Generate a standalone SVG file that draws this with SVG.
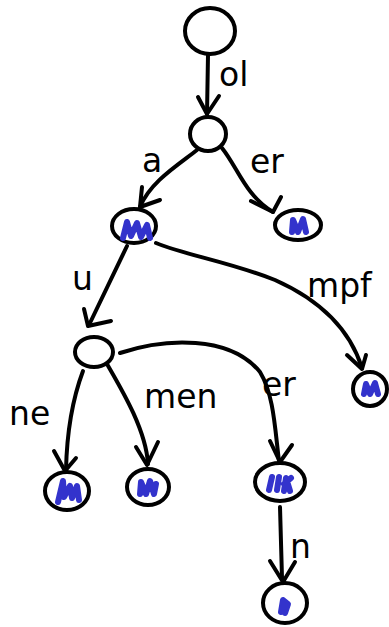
<svg xmlns="http://www.w3.org/2000/svg" width="389" height="627" viewBox="0 0 389 627">
<style>
.n{fill:#fff;stroke:#000;stroke-width:4}
.s{fill:none;stroke:#3333cc;stroke-width:6;stroke-linecap:round;stroke-linejoin:round}
.e{fill:none;stroke:#000;stroke-width:4;stroke-linecap:round;stroke-linejoin:round}
.a{fill:none;stroke:#000;stroke-width:4;stroke-linecap:round;stroke-linejoin:round}
text{font-family:"DejaVu Sans",sans-serif;font-size:33px;fill:#000}
</style>
<rect width="389" height="627" fill="#fff"/>
<g id="connectors">
<path class="e" d="M208,55 L207,114"/><path class="a" d="M198,97 L207,114 L219,96"/>
<path class="e" d="M197,150 C178,165 150,182 140,207"/><path class="a" d="M142,187 L140,207 L160,200"/>
<path class="e" d="M222,148 C238,168 245,195 273,212"/><path class="a" d="M251,201 L273,212 L281,197"/>
<path class="e" d="M127,246 L89,325"/><path class="a" d="M84,309 L88,326 L111,321"/>
<path class="e" d="M156,243 C185,255 230,262 275,280 C320,300 350,330 362,368"/><path class="a" d="M347,355 L362,369 L366,355"/>
<path class="e" d="M83,371 C74,395 67,425 66,470"/><path class="a" d="M54,451 L65,471 L76,458"/>
<path class="e" d="M107,364 C122,390 146,430 148,464"/><path class="a" d="M136,447 L147,465 L158,442"/>
<path class="e" d="M120,353 C165,338 230,335 260,372 C274,395 275,430 279,461"/><path class="a" d="M270,441 L280,462 L292,445"/>
<path class="e" d="M280,507 L282,578"/><path class="a" d="M270,561 L283,582 L295,562"/>
</g>
<g id="labels">
<text x="219" y="86">ol</text>
<text x="142" y="172">a</text>
<text x="250" y="173">er</text>
<text x="72" y="290">u</text>
<text x="307" y="297">mpf</text>
<text x="144" y="408">men</text>
<text x="262" y="396">er</text>
<text x="9" y="425">ne</text>
<text x="290" y="558">n</text>
</g>
<g id="root"><ellipse class="n" cx="210" cy="31" rx="25" ry="23"/></g>
<g id="n_ol"><ellipse class="n" cx="208" cy="134" rx="18" ry="17"/></g>
<g id="n_a"><ellipse class="n" cx="134" cy="226" rx="22" ry="17"/><path class="s" d="M123,238 L127,222 L131,236 L137,223 L141,237 L147,225 L150,238"/></g>
<g id="n_er"><ellipse class="n" cx="298" cy="225" rx="23" ry="15"/><path class="s" d="M292,232 L293,220 L298,232 L303,219 L306,232"/></g>
<g id="n_u"><ellipse class="n" cx="94" cy="352" rx="19" ry="15"/></g>
<g id="n_mpf"><ellipse class="n" cx="370" cy="389" rx="17" ry="17"/><path class="s" d="M364,394 L366,384 L370,394 L375,383 L378,394"/></g>
<g id="n_ne"><ellipse class="n" cx="67" cy="491" rx="22" ry="19"/><path class="s" d="M58,502 L63,481 L64,497 L70,486 L72,498 L77,486 L79,500"/></g>
<g id="n_men"><ellipse class="n" cx="148" cy="487" rx="21" ry="18"/><path class="s" d="M140,494 L141,482 L146,494 L150,481 L154,494 L156,484"/></g>
<g id="n_er2"><ellipse class="n" cx="280" cy="482" rx="25" ry="19"/><path class="s" d="M269,490 L272,477 M277,490 L279,477 M284,491 L286,478 L290,491 M284,484 L291,478"/></g>
<g id="n_n"><ellipse class="n" cx="285" cy="603" rx="22" ry="20"/><path class="s" d="M281,612 L283,600 L288,604 L285,613"/></g>
</svg>
